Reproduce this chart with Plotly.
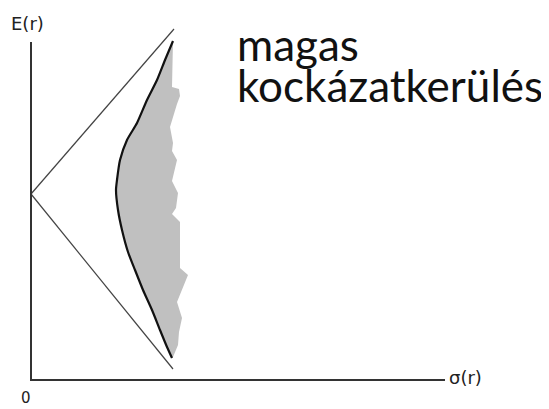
import plotly.graph_objects as go

# Efficient frontier (sigma, E)
frontier_sigma = [1.42, 1.34, 1.26, 1.16, 1.06, 0.96, 0.89, 0.86, 0.85, 0.87, 0.91, 0.97, 1.04, 1.12, 1.21, 1.29, 1.36, 1.41]
frontier_E     = [3.39, 3.20, 3.00, 2.80, 2.57, 2.40, 2.20, 2.00, 1.90, 1.70, 1.50, 1.28, 1.10, 0.90, 0.70, 0.50, 0.33, 0.22]

# Jagged right edge of the grey feasible region (top to bottom)
edge_sigma = [1.42, 1.41, 1.48, 1.49, 1.46, 1.39, 1.42, 1.41, 1.46, 1.41, 1.47, 1.45, 1.41, 1.49, 1.49, 1.57, 1.46, 1.51, 1.48, 1.47, 1.42]
edge_E     = [3.39, 2.93, 2.91, 2.84, 2.76, 2.53, 2.37, 2.29, 2.20, 1.99, 1.87, 1.72, 1.66, 1.58, 1.12, 1.05, 0.78, 0.62, 0.48, 0.35, 0.23]

# Straight lines from the vertex on the E axis
upper_sigma = [0.0, 1.43]
upper_E     = [1.86, 3.51]
lower_sigma = [0.0, 1.42]
lower_E     = [1.86, 0.11]

# Axes extents
axis_sigma_max = 4.14
axis_E_max = 3.38

fig = go.Figure()

# grey area
fig.add_trace(go.Scatter(
    x=frontier_sigma + edge_sigma[::-1],
    y=frontier_E + edge_E[::-1],
    fill="toself", fillcolor="#c0c0c0", mode="none", hoverinfo="skip"))

# lines
fig.add_trace(go.Scatter(x=upper_sigma, y=upper_E, mode="lines",
                         line=dict(color="#444444", width=1.2)))
fig.add_trace(go.Scatter(x=lower_sigma, y=lower_E, mode="lines",
                         line=dict(color="#444444", width=1.2)))
fig.add_trace(go.Scatter(x=frontier_sigma, y=frontier_E, mode="lines",
                         line=dict(color="#111111", width=2.2, shape="spline", smoothing=0.6)))

# axes
fig.add_trace(go.Scatter(x=[0, 0, axis_sigma_max], y=[axis_E_max, 0, 0], mode="lines",
                         line=dict(color="#333333", width=2)))

small = dict(family="DejaVu Sans", size=18, color="#222222")
fig.add_annotation(x=-0.22, y=3.57, xref="x", yref="y", text="E(r)", showarrow=False,
                   xanchor="left", yanchor="middle", font=small)
fig.add_annotation(x=4.16, y=0.03, xref="x", yref="y", text="σ(r)", showarrow=False,
                   xanchor="left", yanchor="middle", font=small)
fig.add_annotation(x=-0.055, y=-0.285, xref="x", yref="y", text="0", showarrow=False,
                   xanchor="center", yanchor="bottom",
                   font=dict(family="DejaVu Sans", size=15, color="#222222"))

big = dict(family="Lato", size=44, color="#111111")
fig.add_annotation(x=2.04, y=3.36, xref="x", yref="y", text="magas",
                   showarrow=False, xanchor="left", yanchor="middle", font=big)
fig.add_annotation(x=2.04, y=2.95, xref="x", yref="y", text="kockázatkerülés",
                   showarrow=False, xanchor="left", yanchor="middle", font=big)

fig.update_layout(
    width=541, height=401, margin=dict(l=0, r=0, t=0, b=0),
    paper_bgcolor="white", plot_bgcolor="white", showlegend=False,
    xaxis=dict(range=[-0.23, 5.18], visible=False, fixedrange=True),
    yaxis=dict(range=[-0.29, 3.72], visible=False, fixedrange=True),
)

fig.write_html("out.html")
